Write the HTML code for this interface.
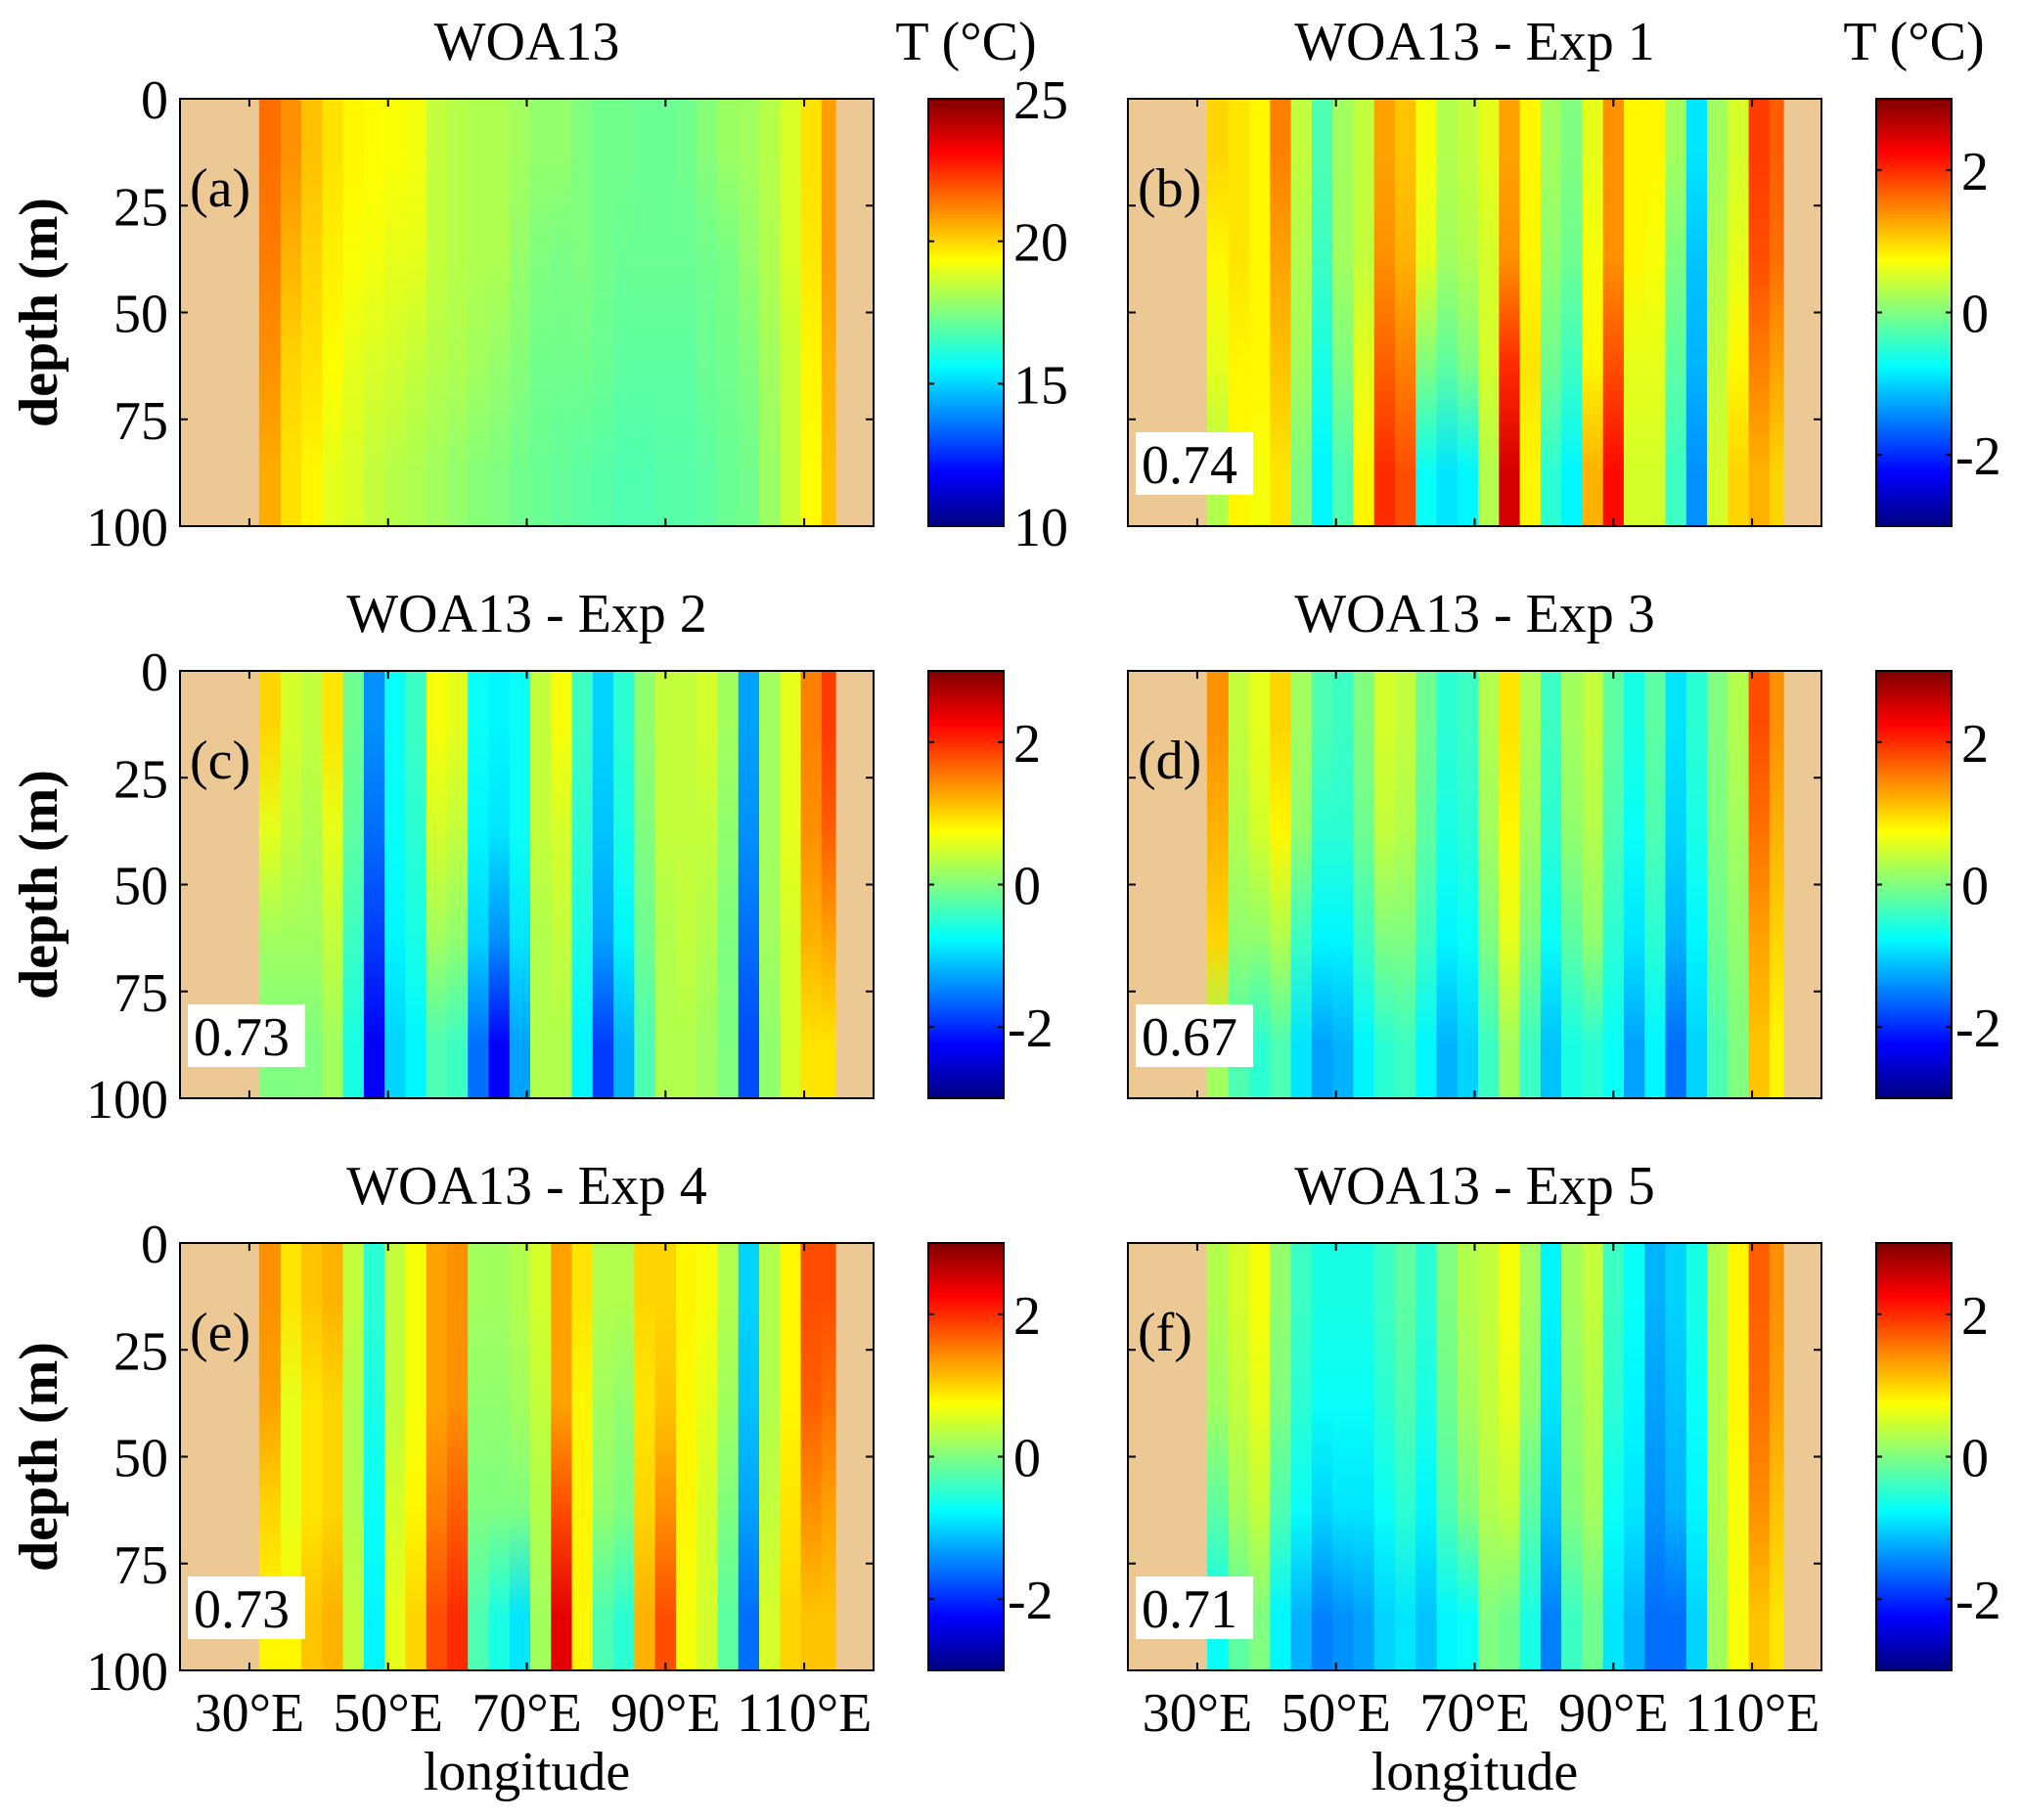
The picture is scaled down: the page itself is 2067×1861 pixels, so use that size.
<!DOCTYPE html>
<html><head><meta charset="utf-8"><style>
html,body{margin:0;padding:0;background:#fff;}
svg{display:block;font-family:"Liberation Serif","Times New Roman",serif;}
</style></head><body>
<svg id="fig" width="2067" height="1861" viewBox="0 0 2067 1861" xmlns="http://www.w3.org/2000/svg"></svg>
<script>
// ---- data ----
const lons = [33,36,39,42,45,48,51,54,57,60,63,66,69,72,75,78,81,84,87,90,93,96,99,102,105,108,111,114];
const depthBands = [12.5,37.5,62.5,87.5];
const depthTicks = [0,25,50,75,100];
const lonTicks = [30,50,70,90,110];
const lonTickLabels = ["30°E","50°E","70°E","90°E","110°E"];
const titles = ["WOA13","WOA13 - Exp 1","WOA13 - Exp 2","WOA13 - Exp 3","WOA13 - Exp 4","WOA13 - Exp 5"];
const panelLabels = ["(a)","(b)","(c)","(d)","(e)","(f)"];
const corrValues = [null,"0.74","0.73","0.67","0.73","0.71"];
const tempTicks = [10,15,20,25];
const diffTicks = [-2,0,2];
const oceanWest = 31.4, oceanEast = 114.5;

const dataA = [[21.5,21.3,21,20.6],[21,20.5,20,19.8],[20.3,20,19.8,19.5],[19.8,19.6,19.4,19],[19.5,19.3,19,18.8],[19.4,19.2,18.8,18.5],[19.3,19,18.7,18.3],[19.2,19,18.5,18.2],[18.5,18.5,18.3,18],[18.3,18.3,18.2,17.8],[18.2,18.2,18,17.6],[18.2,18.2,17.8,17.5],[18,17.8,17.6,17.3],[17.8,17.5,17.3,17.2],[17.8,17.4,17.3,17.1],[17.5,17.5,17.3,17.0],[17.3,17.3,17.2,16.9],[17.3,17.2,17.0,16.8],[17.2,17.2,17,16.8],[17.2,17.2,17,16.9],[17.3,17.2,17,16.9],[17.6,17.3,17.2,17],[17.9,17.4,17.3,17.2],[18,17.8,17.5,17.3],[18.3,18.2,18,17.9],[18.8,18.8,18.6,18.6],[19.8,19.7,19.5,19.4],[20.8,20.8,20.5,20.3]];
const dataB = [[1.0,0.8,0.6,0.3],[0.9,0.9,0.8,0.8],[0.8,0.8,0.8,0.7],[1.5,1.3,1.1,0.9],[0.4,0.3,0.2,0.0],[-0.3,-0.4,-0.6,-0.8],[0.2,0.2,0.0,-0.3],[0.4,0.4,0.6,0.8],[1.3,1.4,1.7,2.0],[1.1,1.2,1.5,1.8],[0.7,0.6,0.0,-0.7],[0.3,0.2,-0.2,-0.9],[0.4,0.3,0.0,-0.8],[0.6,0.5,0.5,0.3],[1.3,1.4,2.0,2.5],[0.8,0.8,0.9,0.8],[0.2,0.1,-0.1,-0.5],[0.0,-0.1,-0.4,-0.8],[0.6,0.7,0.8,1.2],[1.4,1.4,1.8,2.2],[0.8,0.8,0.6,0.5],[0.8,0.7,0.6,0.5],[0.2,0.0,-0.2,-0.4],[-0.9,-1.1,-1.2,-1.4],[0.2,0.3,0.4,0.5],[0.5,0.6,0.8,1.0],[1.9,1.8,1.5,1.2],[1.7,1.6,1.3,1.0]];
const dataC = [[1.0,0.6,0.2,0.0],[0.5,0.4,0.2,0.0],[0.4,0.3,0.2,0.0],[0.9,0.6,0.4,0.2],[-0.1,-0.2,-0.4,-0.6],[-1.4,-1.6,-1.9,-2.3],[-0.7,-0.7,-0.8,-1.0],[-0.4,-0.5,-0.6,-0.8],[0.7,0.5,0.2,-0.3],[0.6,0.4,0.1,-0.4],[-0.7,-0.8,-1.0,-1.6],[-0.8,-0.9,-1.4,-2.3],[-0.7,-0.7,-0.9,-1.3],[0.4,0.4,0.3,0.3],[0.7,0.5,0.4,0.3],[-0.4,-0.5,-0.6,-0.8],[-1.0,-1.1,-1.3,-1.9],[-0.5,-0.6,-0.8,-1.2],[0.1,0.0,-0.1,-0.3],[0.4,0.4,0.3,0.3],[0.4,0.4,0.4,0.3],[0.5,0.4,0.3,0.2],[0.2,0.1,0.0,0.0],[-1.3,-1.4,-1.6,-1.8],[0.2,0.2,0.2,0.1],[0.6,0.6,0.5,0.5],[1.5,1.4,1.2,0.9],[1.9,1.7,1.3,0.9]];
const dataD = [[1.4,1.2,1.0,0.2],[0.4,0.3,0.1,-0.3],[0.6,0.5,0.1,-0.5],[1.0,0.8,0.3,-0.3],[0.2,0.1,-0.4,-0.9],[-0.3,-0.5,-0.8,-1.3],[-0.4,-0.5,-0.8,-1.2],[0.0,-0.1,-0.4,-0.8],[0.5,0.4,0.0,-0.5],[0.4,0.3,0.0,-0.4],[-0.1,-0.2,-0.4,-0.8],[-0.5,-0.6,-0.8,-1.2],[-0.4,-0.5,-0.7,-1.0],[0.3,0.2,0.0,-0.4],[0.9,0.8,0.6,0.2],[0.3,0.2,0.0,-0.4],[-0.4,-0.5,-0.7,-1.1],[0.2,0.1,-0.2,-0.6],[0.4,0.3,0.1,-0.5],[-0.2,-0.3,-0.5,-0.7],[-0.6,-0.7,-0.9,-1.3],[-0.2,-0.3,-0.5,-0.8],[-0.9,-1.0,-1.2,-1.6],[-0.5,-0.6,-0.8,-1.0],[0.0,0.0,-0.1,-0.3],[0.3,0.2,0.1,0.0],[1.8,1.6,1.3,1.1],[1.4,1.2,1.0,0.8]];
const dataE = [[1.4,1.3,1.0,0.8],[0.9,0.6,0.6,0.8],[1.1,0.9,0.9,1.1],[1.2,1.0,1.0,1.2],[0.4,0.3,0.3,0.4],[-0.5,-0.6,-0.7,-0.8],[0.4,0.4,0.5,0.6],[0.7,0.7,0.8,1.0],[1.3,1.3,1.5,1.8],[1.4,1.4,1.7,2.0],[0.2,0.1,0.0,-0.3],[0.2,0.1,0.0,-0.6],[0.3,0.2,0.0,-0.9],[0.5,0.4,0.3,0.2],[1.3,1.3,1.8,2.4],[0.9,0.8,0.8,0.8],[0.3,0.2,0.1,-0.3],[0.3,0.1,0.0,-0.5],[1.0,0.9,1.0,1.2],[1.0,1.1,1.4,1.8],[0.8,0.8,0.8,0.7],[0.7,0.6,0.5,0.5],[0.3,0.2,0.0,-0.2],[-1.0,-1.1,-1.3,-1.6],[0.3,0.3,0.4,0.5],[0.8,0.8,0.9,1.0],[1.8,1.7,1.4,1.1],[1.8,1.6,1.3,1.1]];
const dataF = [[0.3,0.2,-0.2,-0.7],[0.5,0.4,0.2,-0.2],[0.7,0.6,0.4,0.0],[0.1,0.0,-0.3,-0.8],[-0.4,-0.5,-0.7,-1.2],[-0.6,-0.7,-1.0,-1.5],[-0.6,-0.7,-0.9,-1.4],[-0.6,-0.7,-0.9,-1.3],[-0.4,-0.5,-0.7,-1.0],[-0.2,-0.3,-0.5,-0.9],[-0.5,-0.6,-0.8,-1.1],[0.0,-0.1,-0.3,-0.8],[0.3,0.2,0.0,-0.7],[0.4,0.4,0.3,0.0],[0.7,0.6,0.4,-0.1],[0.2,0.1,-0.2,-0.6],[-0.8,-0.9,-1.1,-1.5],[0.2,0.1,0.0,-0.4],[0.4,0.3,0.2,-0.1],[-0.4,-0.5,-0.7,-0.9],[-0.7,-0.8,-0.9,-1.2],[-1.2,-1.3,-1.4,-1.6],[-1.0,-1.1,-1.2,-1.6],[-0.6,-0.7,-0.8,-1.0],[0.3,0.3,0.3,0.2],[0.8,0.8,0.7,0.7],[1.7,1.6,1.4,1.1],[1.4,1.3,1.1,0.9]];

// ---- drawing ----
const NS = "http://www.w3.org/2000/svg";
const svg = document.getElementById('fig');
function mk(tag, attrs, parent){const e=document.createElementNS(NS,tag);for(const k in attrs)e.setAttribute(k,attrs[k]);(parent||svg).appendChild(e);return e;}
function clamp(v){return Math.max(0,Math.min(1,v));}
function jet(t){t=clamp(t);const r=clamp(1.5-Math.abs(4*t-3)),g=clamp(1.5-Math.abs(4*t-2)),b=clamp(1.5-Math.abs(4*t-1));return `rgb(${Math.round(r*255)},${Math.round(g*255)},${Math.round(b*255)})`;}
const defs = mk('defs',{});
const panelData = [dataA,dataB,dataC,dataD,dataE,dataF];
const colX = [184,1153], rowY = [101,686,1271], PW = 709, PH = 437;
const cbX = [949,1918], CBW = 77;
const FS = 56;

panelData.forEach((data,i)=>{
  const col=i%2,row=Math.floor(i/2);
  const x0=colX[col],y0=rowY[row];
  const isT = i===0;
  const vmin = isT?10:-3, vmax = isT?25:3;
  const norm = v=>(v-vmin)/(vmax-vmin);
  const xs = lon=>x0+(lon-20)/100*PW;
  const ys = d=>y0+d/100*PH;
  const g = mk('g',{});
  
  
  const land = mk('rect',{x:x0,y:y0,width:PW,height:PH,fill:'#ecc994'},g);
  
  
  data.forEach((vals,j)=>{
    const gid='gr'+i+'_'+j;
    const lg=mk('linearGradient',{id:gid,x1:0,y1:0,x2:0,y2:1},defs);
    vals.forEach((v,k)=>{mk('stop',{offset:(depthBands[k]/100),'stop-color':jet(norm(v))},lg);});
    const w0 = j===0?oceanWest:(lons[j-1]+lons[j])/2;
    const w1 = j===lons.length-1?oceanEast:(lons[j]+lons[j+1])/2;
    const r=mk('rect',{x:xs(w0),y:y0,width:xs(w1)-xs(w0)+0.6,height:PH,fill:`url(#${gid})`},g);
    
    
  });
  const frame=mk('rect',{x:x0,y:y0,width:PW,height:PH,fill:'none',stroke:'#000','stroke-width':2},g);
  
  
  lonTicks.forEach((lt,k)=>{
    const x=xs(lt);
    mk('line',{x1:x,y1:y0+PH,x2:x,y2:y0+PH-8,stroke:'#000','stroke-width':2},g);
    mk('line',{x1:x,y1:y0,x2:x,y2:y0+8,stroke:'#000','stroke-width':2},g);
    if(row===2){
      const t=mk('text',{x:x,y:1770,'font-size':FS,'text-anchor':'middle'},g);
      t.textContent=lonTickLabels[k];
      
      
    }
  });
  depthTicks.forEach(d=>{
    const y=ys(d);
    mk('line',{x1:x0,y1:y,x2:x0+8,y2:y,stroke:'#000','stroke-width':2},g);
    mk('line',{x1:x0+PW,y1:y,x2:x0+PW-8,y2:y,stroke:'#000','stroke-width':2},g);
    if(col===0){
      const t=mk('text',{x:x0-12,y:y+20,'font-size':FS,'text-anchor':'end'},g);
      t.textContent=String(d);
      
      
    }
  });
  const ti=mk('text',{x:x0+PW/2,y:y0-40,'font-size':FS,'text-anchor':'middle'},g);
  ti.textContent=titles[i];
  
  
  const pl=mk('text',{x:x0+10,y:y0+110,'font-size':FS},g);
  pl.textContent=panelLabels[i];
  
  
  if(corrValues[i]){
    const bx=mk('rect',{x:x0+8,y:y0+341,width:120,height:64,fill:'#fff'},g);
    
    
    const ct=mk('text',{x:x0+14,y:y0+393,'font-size':FS},g);
    ct.textContent=corrValues[i];
    
    
  }
  if(col===0){
    const yl=mk('text',{x:0,y:0,'font-size':FS,'font-weight':'bold','text-anchor':'middle',transform:`translate(58,${y0+PH/2}) rotate(-90)`},g);
    yl.textContent='depth (m)';
    
    
  }
  if(row===2){
    const xl=mk('text',{x:x0+PW/2,y:1830,'font-size':FS,'text-anchor':'middle'},g);
    xl.textContent='longitude';
    
    
  }
  // colorbar
  const cx=cbX[col];
  const cg=mk('g',{},g);
  
  
  const cid='cb'+i;
  const cl=mk('linearGradient',{id:cid,x1:0,y1:1,x2:0,y2:0},defs);
  for(let k=0;k<=16;k++){mk('stop',{offset:k/16,'stop-color':jet(k/16)},cl);}
  mk('rect',{x:cx,y:y0,width:CBW,height:PH,fill:`url(#${cid})`,stroke:'#000','stroke-width':2},cg);
  const cbs=v=>y0+PH-(v-vmin)/(vmax-vmin)*PH;
  (isT?tempTicks:diffTicks).forEach(v=>{
    const y=cbs(v);
    mk('line',{x1:cx,y1:y,x2:cx+6,y2:y,stroke:'#000','stroke-width':2},cg);
    mk('line',{x1:cx+CBW,y1:y,x2:cx+CBW-6,y2:y,stroke:'#000','stroke-width':2},cg);
    const t=mk('text',{x:cx+CBW+(v<0?4:10),y:y+20,'font-size':FS},cg);
    t.textContent=String(v);
    
    
  });
  if(row===0){
    const ct=mk('text',{x:cx+CBW/2,y:y0-40,'font-size':FS,'text-anchor':'middle'},cg);
    ct.textContent='T (°C)';
    
    
  }
});
</script>
</body></html>
